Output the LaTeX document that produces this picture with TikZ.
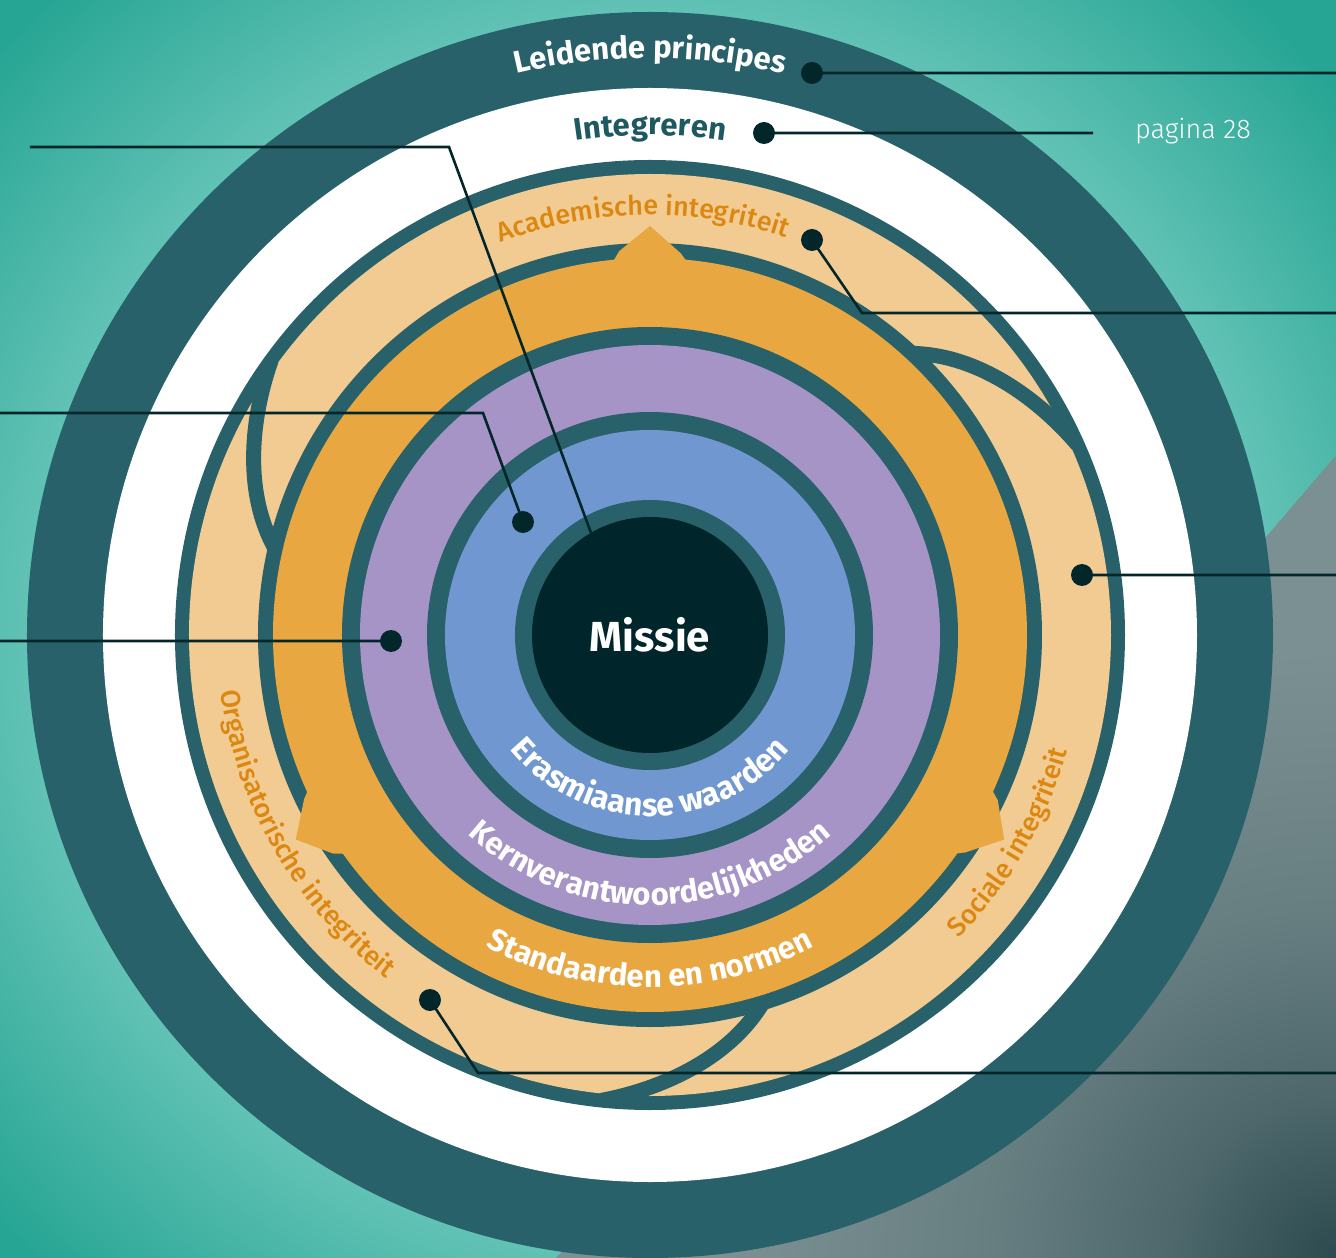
\documentclass[tikz,border=0pt]{standalone}
\usepackage{fontspec}
\setmainfont{Fira Sans}
\newfontfamily\lightfont{Fira Sans}[UprightFont={* Light}]
\newfontfamily\medfont{Fira Sans}[UprightFont={* Medium}]
\usetikzlibrary{decorations.text}

\definecolor{bglight}{RGB}{109,200,188}
\definecolor{bgdark}{RGB}{39,165,148}
\definecolor{ringteal}{RGB}{40,97,105}
\definecolor{coredark}{RGB}{0,37,42}
\definecolor{sandband}{RGB}{242,203,147}
\definecolor{orangeband}{RGB}{232,167,64}
\definecolor{purpleband}{RGB}{167,148,199}
\definecolor{blueband}{RGB}{112,151,207}
\definecolor{labelorange}{RGB}{220,136,16}
\definecolor{labelteal}{RGB}{30,89,97}
\definecolor{leadercol}{RGB}{3,38,43}
\definecolor{greylight}{RGB}{123,144,147}
\definecolor{greymid}{RGB}{104,127,130}
\definecolor{greydark}{RGB}{44,74,79}

\pgfdeclareradialshading{bgglow}{\pgfpoint{0bp}{0bp}}{color(0bp)=(bglight); color(15bp)=(bglight); color(23bp)=(bgdark); color(50bp)=(bgdark)}
\pgfdeclareradialshading{greyglow}{\pgfpoint{0bp}{0bp}}{color(0bp)=(greydark); color(5bp)=(greymid!55!greydark); color(11bp)=(greymid); color(19bp)=(greylight); color(50bp)=(greylight)}

\tikzset{
x=1pt, y=1pt, % one unit is one pixel of the layout
leader/.style={draw=leadercol, line width=2.6pt}, % thin callout lines
dot/.style={circle, fill=leadercol, inner sep=0pt, minimum size=22pt}, % callout end points
swirl/.style={draw=ringteal, line width=15pt}, % the tails between the integriteit parts
ringlabel/.style={decorate, decoration={text along path, text align=center, text={#1}}},
}

\begin{document}
\begin{tikzpicture}
      \useasboundingbox (-650,-623) rectangle (686,635);
      \begin{scope}
        \clip (-650,-623) rectangle (686,635);
        \shade[shading=bgglow] (-950,-950) rectangle (950,950);
        \begin{scope}
          \clip (700,196) -- (616,98) -- (-106,-635) -- (700,-635) -- cycle;
          \shade[shading=greyglow] (-114,-1423) rectangle (1486,177);
        \end{scope}
      \end{scope}

      % rings from outside to inside
      \fill[ringteal] (0,0) circle[radius=623];
      \fill[white] (0,0) circle[radius=547];
      \fill[ringteal] (0,0) circle[radius=475];
      \fill[sandband] (0,0) circle[radius=461];
      \begin{scope}
        \clip (0,0) circle[radius=475];
        \foreach \a in {0,120,240}
          \draw[swirl, rotate=\a] (262.6,281.6) .. controls (332,280) and (392,232) .. (427.5,190.4);
      \end{scope}
      \fill[ringteal] (0,0) circle[radius=392];
      \fill[orangeband] (0,0) circle[radius=377];
      \foreach \a in {90,210,330}
        \fill[orangeband] (\a:409) -- (\a+4.6:385) -- (\a+5.8:374) -- (\a-5.8:374) -- (\a-4.6:383) -- cycle;
      \fill[ringteal] (0,0) circle[radius=308];
      \fill[purpleband] (0,0) circle[radius=290];
      \fill[ringteal] (0,0) circle[radius=223];
      \fill[blueband] (0,0) circle[radius=205];
      \fill[ringteal] (0,0) circle[radius=135];
      \node[circle, fill=coredark, minimum size=236pt, inner sep=0pt, text=white,
        font=\bfseries\fontsize{42}{44}\selectfont] (missie) at (0,0) {Missie};

      % texts along the rings
      \path[ringlabel={|\bfseries\fontsize{31}{33}\selectfont\color{white}|Leidende principes}]
        (125:577) arc[start angle=125, end angle=55, radius=577];
      \path[ringlabel={|\bfseries\fontsize{31}{33}\selectfont\color{labelteal}|Integreren}]
        (110:500) arc[start angle=110, end angle=70, radius=500];
      \path[ringlabel={|\medfont\fontsize{27}{29}\selectfont\color{labelorange}|Academische integriteit}]
        (126:420) arc[start angle=126, end angle=56, radius=420];
      \path[ringlabel={|\medfont\fontsize{27}{29}\selectfont\color{labelorange}|Organisatorische integriteit}]
        (175:433) arc[start angle=175, end angle=245, radius=433];
      \path[ringlabel={|\medfont\fontsize{27}{29}\selectfont\color{labelorange}|Sociale integriteit}]
        (-65:433) arc[start angle=-65, end angle=5, radius=433];
      \path[ringlabel={|\bfseries\fontsize{32}{34}\selectfont\color{white}|Erasmiaanse waarden}]
        (200:181) arc[start angle=200, end angle=340, radius=181];
      \path[ringlabel={|\bfseries\fontsize{31}{33}\selectfont\color{white}|Kernverantwoordelijkheden}]
        (200:270) arc[start angle=200, end angle=340, radius=270];
      \path[ringlabel={|\bfseries\fontsize{31}{33}\selectfont\color{white}|Standaarden en normen}]
        (220:352) arc[start angle=220, end angle=320, radius=352];

      \node[text=white, font=\lightfont\fontsize{27}{29}\selectfont] (pagina) at (543,504) {pagina 28};

      % callouts
      \node[dot] (dLeid) at (162,562) {};
      \node[dot] (dInteg) at (114,502) {};
      \node[dot] (dAcad) at (162,395) {};
      \node[dot] (dSoc) at (432,60) {};
      \node[dot] (dOrg) at (-220,-365) {};
      \node[dot] (dWaard) at (-127,113) {};
      \node[dot] (dKern) at (-259,-6) {};
      \coordinate (eLeid) at (700,562);
      \coordinate (eInteg) at (443,502);
      \coordinate (bAcad) at (212,322);
      \coordinate (eAcad) at (700,322);
      \coordinate (eSoc) at (700,60);
      \coordinate (bOrg) at (-172,-438);
      \coordinate (eOrg) at (700,-438);
      \coordinate (sMissie) at (-620,488);
      \coordinate (bMissie) at (-201,488);
      \coordinate (sWaard) at (-660,222);
      \coordinate (bWaard) at (-167,222);
      \coordinate (sKern) at (-660,-6);

      \draw[leader] (dLeid.center) -- (eLeid)
      (dInteg.center) -- (eInteg)
      (dAcad.center) -- (bAcad) -- (eAcad)
      (dSoc.center) -- (eSoc)
      (dOrg.center) -- (bOrg) -- (eOrg)
      (sMissie) -- (bMissie) -- (missie.120)
      (sWaard) -- (bWaard) -- (dWaard.center)
      (sKern) -- (dKern.center);
    \end{tikzpicture}
\end{document}
